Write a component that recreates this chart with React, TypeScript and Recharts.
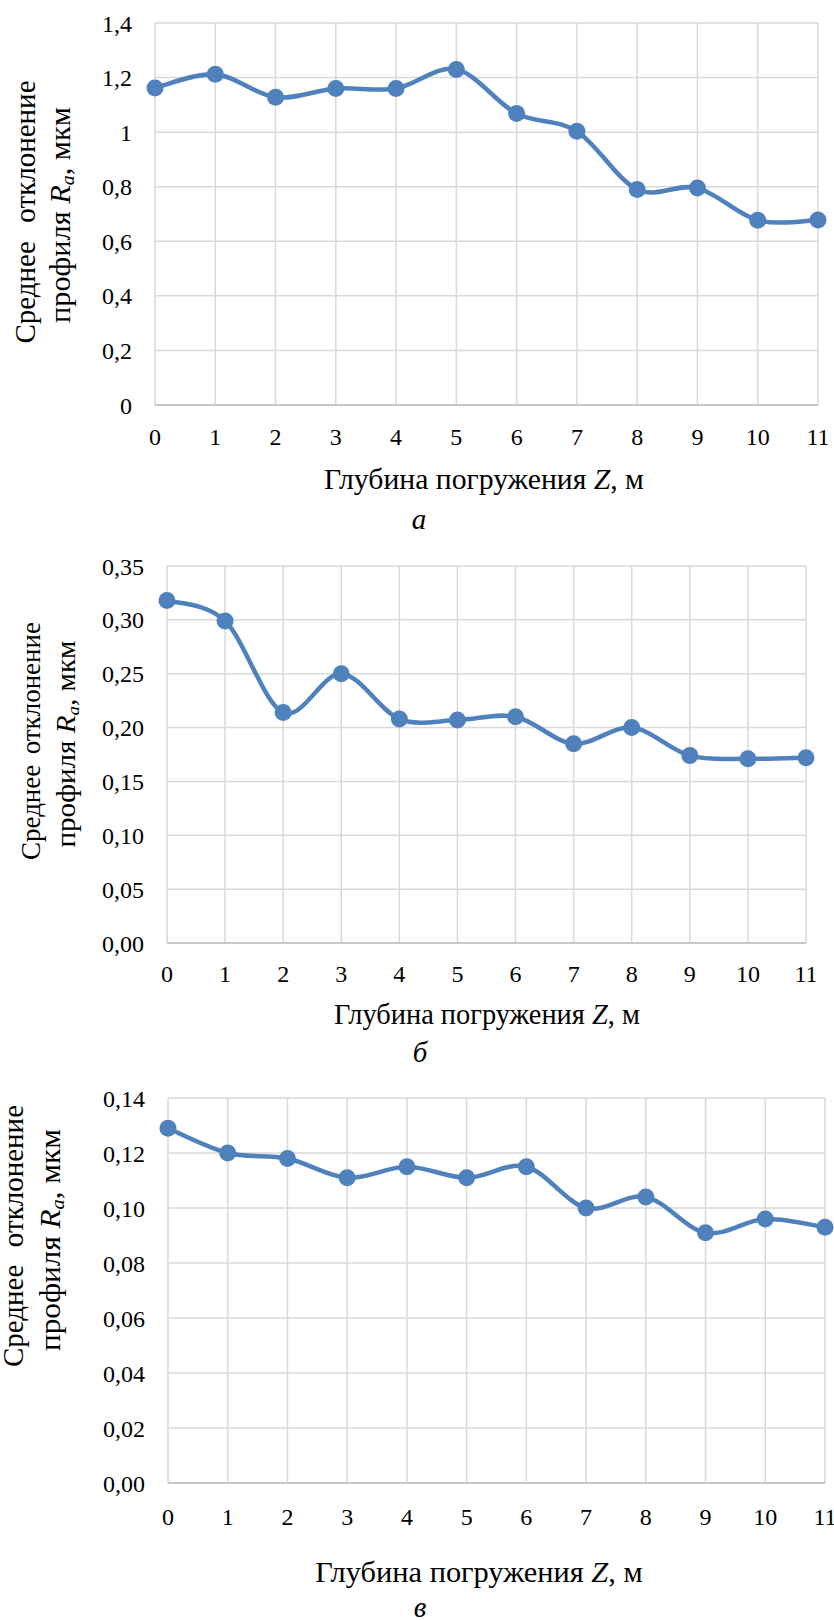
import { LineChart, Line, XAxis, YAxis, CartesianGrid } from "recharts";

const depth = [0, 1, 2, 3, 4, 5, 6, 7, 8, 9, 10, 11];
const raA = [1.162, 1.212, 1.128, 1.16, 1.16, 1.23, 1.068, 1.003, 0.79, 0.795, 0.677, 0.678];
const raB = [0.318, 0.299, 0.214, 0.25, 0.208, 0.207, 0.21, 0.185, 0.2, 0.174, 0.171, 0.172];
const raC = [0.129, 0.12, 0.118, 0.111, 0.115, 0.111, 0.115, 0.1, 0.104, 0.091, 0.096, 0.093];

const ticksA = [0, 0.2, 0.4, 0.6, 0.8, 1, 1.2, 1.4];
const ticksB = [0, 0.05, 0.1, 0.15, 0.2, 0.25, 0.3, 0.35];
const ticksC = [0, 0.02, 0.04, 0.06, 0.08, 0.1, 0.12, 0.14];

const FONT = "Liberation Serif, Times New Roman, serif";
const BLUE = "#4f81bd";

// Excel-style smoothed line (Catmull-Rom through the points)
const excelCurve = (context: any) => {
  let pts: [number, number][] = [];
  return {
    areaStart() {},
    areaEnd() {},
    lineStart() {
      pts = [];
    },
    lineEnd() {
      const n = pts.length;
      if (!n) return;
      context.moveTo(pts[0][0], pts[0][1]);
      for (let i = 0; i < n - 1; i++) {
        const p0 = pts[Math.max(i - 1, 0)];
        const p1 = pts[i];
        const p2 = pts[i + 1];
        const p3 = pts[Math.min(i + 2, n - 1)];
        context.bezierCurveTo(
          p1[0] + (p2[0] - p0[0]) / 6,
          p1[1] + (p2[1] - p0[1]) / 6,
          p2[0] - (p3[0] - p1[0]) / 6,
          p2[1] - (p3[1] - p1[1]) / 6,
          p2[0],
          p2[1]
        );
      }
    },
    point(x: number, y: number) {
      pts.push([+x, +y]);
    },
  };
};

type YTitle = {
  x1: number;
  x2: number;
  cy1: number;
  cy2: number;
  len1: number;
  len2: number;
  size: number;
};

type Cfg = {
  values: number[];
  ticks: number[];
  fmt: (v: number) => string;
  margin: { top: number; right: number; bottom: number };
  yWidth: number;
  xTickMargin: number;
  yTitle: YTitle;
  xTitle: { x: number; y: number; size: number };
  caption: { text: string; x: number; y: number };
};

function DepthChart({ cfg }: { cfg: Cfg }) {
  const data = depth.map((z, i) => ({ z, ra: cfg.values[i] }));
  const yt = cfg.yTitle;
  const top = cfg.ticks[cfg.ticks.length - 1];

  // first line is justified: words pushed to both ends
  const yLabel = () => (
    <g fontFamily={FONT} fill="#000" fontSize={yt.size}>
      <g transform={`translate(${yt.x1}, ${yt.cy1}) rotate(-90)`}>
        <text x={-yt.len1 / 2} y={0} textAnchor="start">
          Среднее
        </text>
        <text x={yt.len1 / 2} y={0} textAnchor="end">
          отклонение
        </text>
      </g>
      <text
        x={yt.x2}
        y={yt.cy2}
        textAnchor="middle"
        textLength={yt.len2}
        lengthAdjust="spacingAndGlyphs"
        transform={`rotate(-90, ${yt.x2}, ${yt.cy2})`}
      >
        профиля <tspan fontStyle="italic">R</tspan>
        <tspan fontStyle="italic" fontSize={yt.size * 0.65} dy={4}>a</tspan>
        <tspan dy={-4}>, мкм</tspan>
      </text>
    </g>
  );

  const xLabel = () => (
    <g fontFamily={FONT} fill="#000">
      <text x={cfg.xTitle.x} y={cfg.xTitle.y} fontSize={cfg.xTitle.size} textAnchor="middle">
        Глубина погружения <tspan fontStyle="italic">Z</tspan>, м
      </text>
      <text x={cfg.caption.x} y={cfg.caption.y} fontSize={29} fontStyle="italic" textAnchor="middle">
        {cfg.caption.text}
      </text>
    </g>
  );

  const tickStyle = { fill: "#000", fontSize: 24, fontFamily: FONT };

  return (
    <LineChart
      width={834}
      height={540}
      data={data}
      margin={{ top: cfg.margin.top, right: cfg.margin.right, bottom: cfg.margin.bottom, left: 0 }}
    >
      <CartesianGrid stroke="#d9d9d9" strokeWidth={1.5} />
      <XAxis
        dataKey="z"
        type="number"
        domain={[0, 11]}
        ticks={depth}
        interval={0}
        height={30}
        axisLine={{ stroke: "#bfbfbf", strokeWidth: 1.5 }}
        tickLine={false}
        tickSize={0}
        tickMargin={cfg.xTickMargin}
        tick={tickStyle}
        label={xLabel}
      />
      <YAxis
        type="number"
        domain={[0, top]}
        ticks={cfg.ticks}
        interval={0}
        width={cfg.yWidth}
        axisLine={false}
        tickLine={false}
        tickSize={0}
        tickMargin={23}
        tickFormatter={cfg.fmt}
        tick={tickStyle}
        label={yLabel}
      />
      <Line
        dataKey="ra"
        type={excelCurve as any}
        stroke={BLUE}
        strokeWidth={4.5}
        dot={{ r: 8.5, fill: BLUE, stroke: BLUE, strokeWidth: 0 }}
        activeDot={false}
        isAnimationActive={false}
      />
    </LineChart>
  );
}

const fmtA = (v: number) => String(+v.toFixed(1)).replace(".", ",");
const fmt2 = (v: number) => v.toFixed(2).replace(".", ",");

const charts: Cfg[] = [
  {
    values: raA,
    ticks: ticksA,
    fmt: fmtA,
    margin: { top: 23, right: 16, bottom: 105 },
    yWidth: 155,
    xTickMargin: 23,
    yTitle: { x1: 35, x2: 70, cy1: 212, cy2: 215, len1: 263, len2: 216, size: 29 },
    xTitle: { x: 484, y: 489, size: 29.7 },
    caption: { text: "а", x: 419, y: 529 },
  },
  {
    values: raB,
    ticks: ticksB,
    fmt: fmt2,
    margin: { top: 26, right: 28, bottom: 107 },
    yWidth: 167,
    xTickMargin: 22,
    yTitle: { x1: 40, x2: 75, cy1: 201, cy2: 204, len1: 238, len2: 207, size: 27 },
    xTitle: { x: 487, y: 484, size: 28.4 },
    caption: { text: "б", x: 420, y: 522 },
  },
  {
    values: raC,
    ticks: ticksC,
    fmt: fmt2,
    margin: { top: 18, right: 9, bottom: 107 },
    yWidth: 168,
    xTickMargin: 25,
    yTitle: { x1: 23, x2: 60, cy1: 156, cy2: 160, len1: 262, len2: 222, size: 29 },
    xTitle: { x: 479, y: 502, size: 30.4 },
    caption: { text: "в", x: 420, y: 537 },
  },
];

export default function App() {
  return (
    <div style={{ position: "absolute", left: 0, top: 0, width: 834, height: 1620, background: "#fff" }}>
      {charts.map((c, i) => (
        <div key={i} style={{ position: "absolute", left: 0, top: i * 540, width: 834, height: 540 }}>
          <DepthChart cfg={c} />
        </div>
      ))}
    </div>
  );
}
